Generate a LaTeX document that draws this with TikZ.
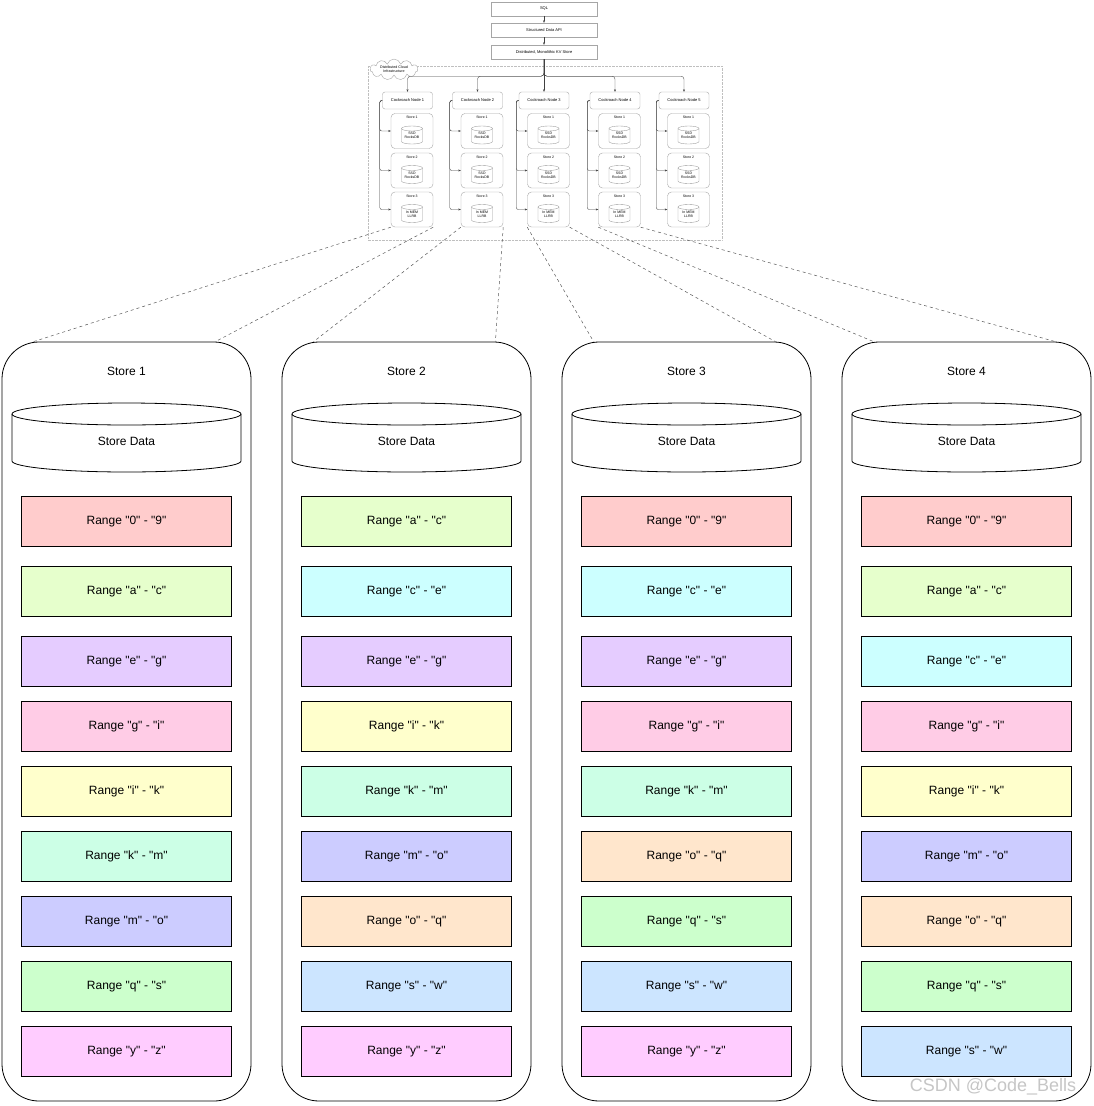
\documentclass[tikz,border=0pt]{standalone}
\usepackage{fontspec}
\setmainfont{Liberation Sans}[Ligatures=TeXOff]
\usetikzlibrary{graphs}
\usetikzlibrary{calc}
\usetikzlibrary{arrows.meta}
\usetikzlibrary{shapes.symbols}
\definecolor{c09}{HTML}{FFCCCC}
\definecolor{cac}{HTML}{E6FFCC}
\definecolor{cce}{HTML}{CCFFFF}
\definecolor{ceg}{HTML}{E5CCFF}
\definecolor{cgi}{HTML}{FFCCE6}
\definecolor{cik}{HTML}{FFFFCC}
\definecolor{ckm}{HTML}{CCFFE6}
\definecolor{cmo}{HTML}{CCCCFF}
\definecolor{coq}{HTML}{FFE6CC}
\definecolor{cqs}{HTML}{CCFFCC}
\definecolor{csw}{HTML}{CCE5FF}
\definecolor{cyz}{HTML}{FFCCFF}
\tikzset{
  tbox/.style= {draw=gray!70, minimum width=106pt, minimum height=14pt, inner sep=0, font=\fontsize{4}{4.5}\selectfont},
  cnode/.style= {draw=gray!70, rounded corners=2.5pt, minimum width=50pt, minimum height=17pt, inner sep=0, font=\fontsize{4}{4.5}\selectfont},
  sbox/.style= {draw=gray!70, rounded corners=4pt, minimum width=42pt, minimum height=35pt, inner sep=0},
  stext/.style= {inner sep=0, align=center, font=\fontsize{3.5}{4}\selectfont},
  link/.style= {-{Stealth[length=2.5pt,width=2pt]}, black!75, line width=0.35pt},
  fanline/.style= {gray!70!black, dash pattern=on 3pt off 3pt, line width=0.5pt},
  bigstore/.style= {draw, rounded corners=37pt, minimum width=249pt, minimum height=759pt, line width=0.8pt},
  rangebox/.style= {draw, minimum width=210pt, minimum height=50pt, line width=0.8pt, font=\fontsize{12}{14}\selectfont},
  stitle/.style= {inner sep=0, font=\fontsize{12}{14}\selectfont},
}
\newcommand{\drum}[6][]{%
  \draw[#1] (#2,#3+#6) ellipse [x radius=#4pt, y radius=#6pt];
  \draw[#1] (#2-#4,#3+#6) -- (#2-#4,#3+#5-#6) arc [start angle=180, end angle=360, x radius=#4pt, y radius=#6pt] -- (#2+#4,#3+#6);
}

\begin{document}
\begin{tikzpicture}[x=1pt, y=-1pt]
  \useasboundingbox (0,0) rectangle (1093,1106);
  \fill[white] (0,0) rectangle (1093,1106);

  \draw[gray!50, densely dotted, line width=0.4pt] (368,66) rectangle (722,240);
  \node [cloud, draw=gray!70, fill=white, cloud puffs=11, aspect=3, minimum width=48pt, minimum height=16pt, inner sep=0, stext, font=\fontsize{3.6}{4}\selectfont] (cl) at (394,69.5) {Distributed Cloud\\Infrastructure} ;

  \node [tbox] (sql) at (544,8.7) {SQL} ;
  \node [tbox] (api) at (544,30) {Structured Data API} ;
  \node [tbox] (kv) at (544,52) {Distributed, Monolithic KV Store} ;

  \foreach \i/\x in {1/407.5, 2/477.5, 3/544, 4/615, 5/684} {
    \node [cnode] (n\i) at (\x,100.5) {Cockroach Node \i} ;
    \foreach \j/\y/\kind in {1/131/{SSD\\RocksDB}, 2/170.5/{SSD\\RocksDB}, 3/209.5/{In MEM\\LLRB}} {
      \node [sbox] (n\i-\j) at (\x+4.5,\y) {} ;
      \node [stext] (n\i-\j-t) at (\x+4.5,\y-13.5) {Store \j} ;
      \drum[draw=gray!80, line width=0.35pt]{\x+4.5}{\y-5}{10.5}{18}{2.5}
      \node [stext] (n\i-\j-d) at (\x+4.5,\y+4.5) {\kind} ;
      \draw [link, rounded corners=2pt] (n\i.west) -- ++(-2.5,0) |- (n\i-\j.west) ;
    }
  }
  \foreach \i in {1,2,4,5}
    \draw [link, rounded corners=3pt] (kv.south) -- ++(0,17) -| (n\i.north) ;

  \graph {
    (sql) ->[link] (api) ->[link] (kv) ->[link] (n3) ;
  } ;

  \node [bigstore] (s1) at (126.5,721.5) {} ;
  \node [stitle] (t1) at (126.5,371) {Store 1} ;
  \drum[line width=0.8pt]{126.5}{403}{114.5}{69}{11}
  \node [stitle] (d1) at (126.5,441) {Store Data} ;
  \foreach \y/\lo/\hi/\c [count=\k] in {521.5/0/9/c09, 591.5/a/c/cac, 661.5/e/g/ceg, 726.5/g/i/cgi, 791.5/i/k/cik, 856.5/k/m/ckm, 921.5/m/o/cmo, 986.5/q/s/cqs, 1051.5/y/z/cyz}
    \node [rangebox, fill=\c] (s1r\k) at (126.5,\y) {Range "\lo" - "\hi"} ;

  \node [bigstore] (s2) at (406.5,721.5) {} ;
  \node [stitle] (t2) at (406.5,371) {Store 2} ;
  \drum[line width=0.8pt]{406.5}{403}{114.5}{69}{11}
  \node [stitle] (d2) at (406.5,441) {Store Data} ;
  \foreach \y/\lo/\hi/\c [count=\k] in {521.5/a/c/cac, 591.5/c/e/cce, 661.5/e/g/ceg, 726.5/i/k/cik, 791.5/k/m/ckm, 856.5/m/o/cmo, 921.5/o/q/coq, 986.5/s/w/csw, 1051.5/y/z/cyz}
    \node [rangebox, fill=\c] (s2r\k) at (406.5,\y) {Range "\lo" - "\hi"} ;

  \node [bigstore] (s3) at (686.5,721.5) {} ;
  \node [stitle] (t3) at (686.5,371) {Store 3} ;
  \drum[line width=0.8pt]{686.5}{403}{114.5}{69}{11}
  \node [stitle] (d3) at (686.5,441) {Store Data} ;
  \foreach \y/\lo/\hi/\c [count=\k] in {521.5/0/9/c09, 591.5/c/e/cce, 661.5/e/g/ceg, 726.5/g/i/cgi, 791.5/k/m/ckm, 856.5/o/q/coq, 921.5/q/s/cqs, 986.5/s/w/csw, 1051.5/y/z/cyz}
    \node [rangebox, fill=\c] (s3r\k) at (686.5,\y) {Range "\lo" - "\hi"} ;

  \node [bigstore] (s4) at (966.5,721.5) {} ;
  \node [stitle] (t4) at (966.5,371) {Store 4} ;
  \drum[line width=0.8pt]{966.5}{403}{114.5}{69}{11}
  \node [stitle] (d4) at (966.5,441) {Store Data} ;
  \foreach \y/\lo/\hi/\c [count=\k] in {521.5/0/9/c09, 591.5/a/c/cac, 661.5/c/e/cce, 726.5/g/i/cgi, 791.5/i/k/cik, 856.5/m/o/cmo, 921.5/o/q/coq, 986.5/q/s/cqs, 1051.5/s/w/csw}
    \node [rangebox, fill=\c] (s4r\k) at (966.5,\y) {Range "\lo" - "\hi"} ;

  \foreach \i in {1,2,3,4} {
    \draw [fanline] (n\i-3.south west) -- ($(s\i.north west)+(32,0)$) ;
    \draw [fanline] (n\i-3.south east) -- ($(s\i.north east)+(-36,0)$) ;
  }

  \node [text=gray!45, font=\fontsize{18}{20}\selectfont, inner sep=0] (wm) at (993,1087) {CSDN @Code\_Bells} ;
\end{tikzpicture}
\end{document}
